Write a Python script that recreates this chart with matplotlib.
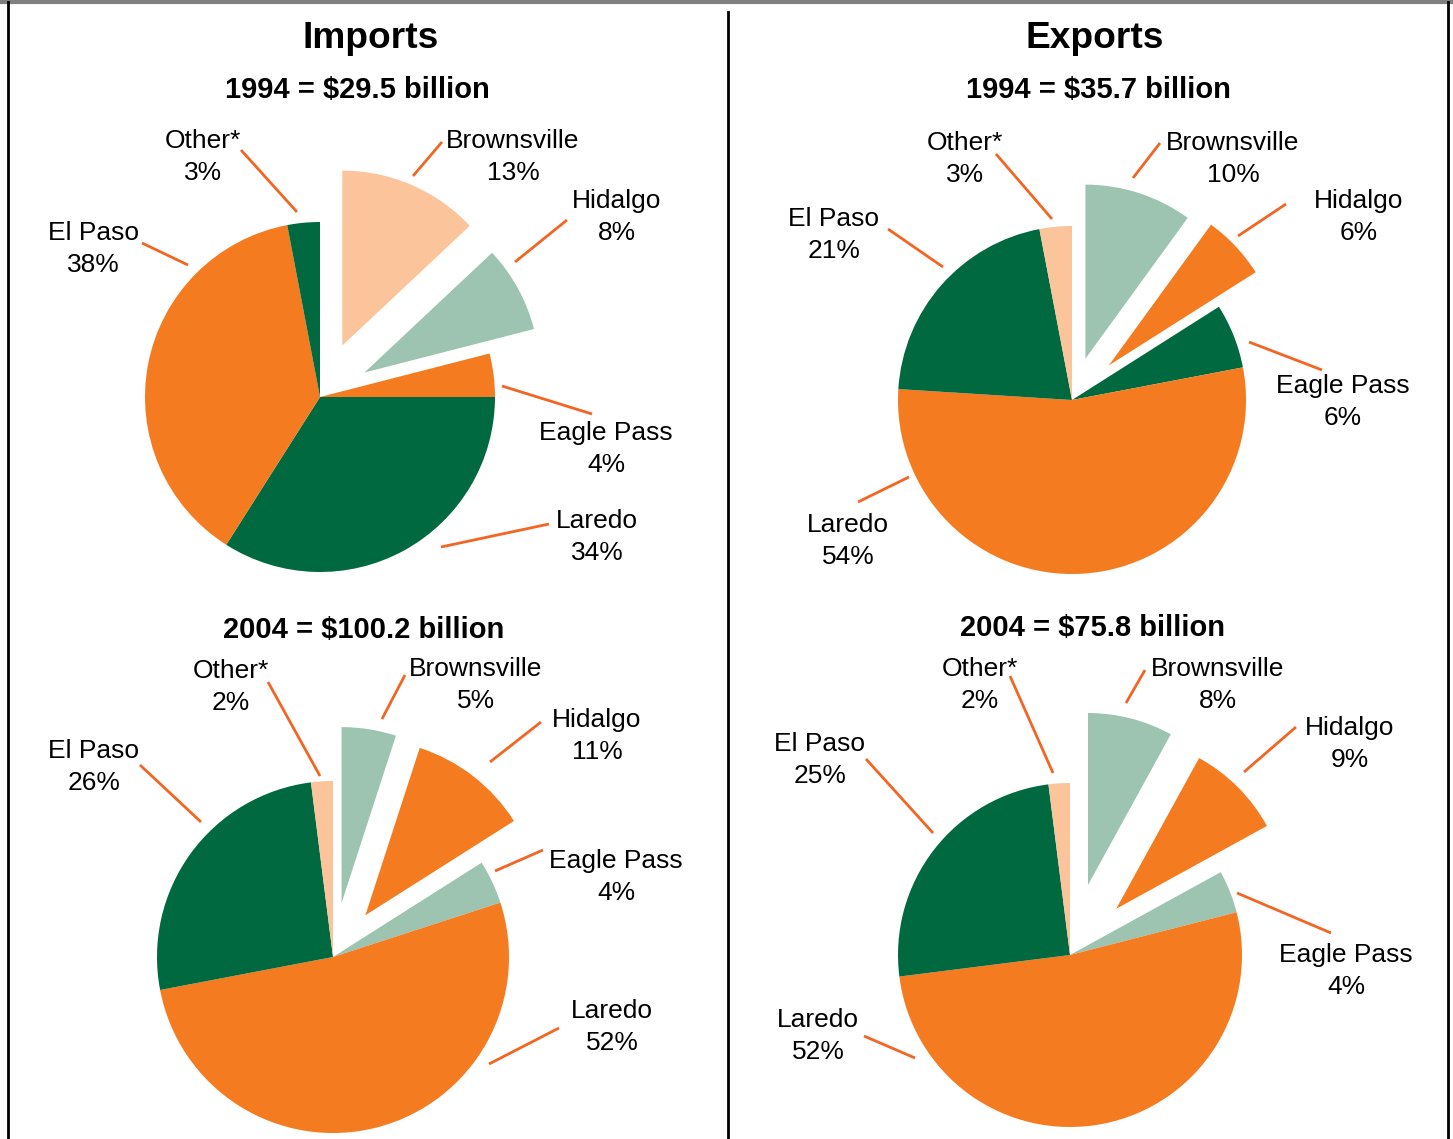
import matplotlib
matplotlib.use("Agg")
import matplotlib.pyplot as plt
from matplotlib.lines import Line2D

# ---------------- data ----------------
ports = ["Brownsville", "Hidalgo", "Eagle Pass", "Laredo", "El Paso", "Other*"]
imports_1994 = [13, 8, 4, 34, 38, 3]
imports_2004 = [5, 11, 4, 52, 26, 2]
exports_1994 = [10, 6, 6, 54, 21, 3]
exports_2004 = [8, 9, 4, 52, 25, 2]
panel_titles = ["Imports", "Exports"]
subtitles = ["1994 = $29.5 billion", "2004 = $100.2 billion",
             "1994 = $35.7 billion", "2004 = $75.8 billion"]

# ---------------- style ----------------
ORANGE = "#F47B20"
DKGREEN = "#006940"
LTGREEN = "#9DC3B1"
PEACH = "#FBC49A"
LEADER = "#F26522"

W, H = 1453, 1139
fig = plt.figure(figsize=(W / 100, H / 100), dpi=100)
ax = fig.add_axes([0, 0, 1, 1])
plt.rcParams["font.family"] = ["Liberation Sans", "DejaVu Sans"]

def Y(y):
    return H - y

# layout: (values, center px, radius px, colors, explode fractions, label layout)
# label layout per slice: (text x, text y center, leader x0, y0, x1, y1)
pies = [
    (imports_1994, (320, 397), 175,
     [PEACH, LTGREEN, ORANGE, DKGREEN, ORANGE, DKGREEN],
     [0.32, 0.29, 0, 0, 0, 0],
     [(513, 157, 413, 176, 442, 142),
      (617, 217, 515, 262, 567, 220),
      (606, 449, 502, 386, 592, 414),
      (597, 537, 441, 547, 549, 524),
      (93, 249, 188, 265, 142, 243),
      (203, 157, 297, 212, 241, 150)]),
    (imports_2004, (333, 957), 176,
     [LTGREEN, ORANGE, LTGREEN, ORANGE, DKGREEN, PEACH],
     [0.31, 0.3, 0, 0, 0, 0],
     [(476, 685, 382, 719, 405, 675),
      (597, 736, 490, 762, 541, 722),
      (616, 877, 495, 871, 543, 850),
      (612, 1027, 489, 1064, 559, 1028),
      (94, 767, 201, 822, 140, 765),
      (231, 687, 320, 776, 268, 682)]),
    (exports_1994, (1072, 400), 174,
     [LTGREEN, ORANGE, DKGREEN, ORANGE, DKGREEN, PEACH],
     [0.25, 0.29, 0, 0, 0, 0],
     [(1233, 159, 1133, 178, 1160, 143),
      (1359, 217, 1238, 236, 1286, 204),
      (1343, 402, 1249, 342, 1322, 370),
      (848, 541, 909, 477, 858, 502),
      (834, 235, 943, 267, 888, 229),
      (965, 159, 1052, 219, 996, 154)]),
    (exports_2004, (1070, 955), 172,
     [LTGREEN, ORANGE, LTGREEN, ORANGE, DKGREEN, PEACH],
     [0.42, 0.38, 0, 0, 0, 0],
     [(1218, 685, 1126, 703, 1145, 670),
      (1350, 744, 1244, 772, 1296, 727),
      (1346, 971, 1237, 893, 1331, 933),
      (818, 1036, 915, 1058, 864, 1036),
      (820, 760, 933, 833, 866, 759),
      (980, 685, 1053, 773, 1010, 676)]),
]

for values, (cx, cy), r, cols, expl, lay in pies:
    ax.pie(values, explode=[e * r for e in expl], colors=cols,
           startangle=90, counterclock=False, center=(cx, Y(cy)), radius=r,
           frame=True, wedgeprops=dict(linewidth=0))
    for name, v, (tx, ty, x0, y0, x1, y1) in zip(ports, values, lay):
        ax.plot([x0, x1], [Y(y0), Y(y1)], color=LEADER, lw=2,
                solid_capstyle="butt")
        ax.text(tx, Y(ty), f"{name}\n{v}%", ha="center", va="center",
                fontsize=19, linespacing=1.45, color="black")

# titles
ax.text(371, Y(39), panel_titles[0], ha="center", va="center",
        fontsize=26.7, fontweight="bold")
ax.text(1095, Y(39), panel_titles[1], ha="center", va="center",
        fontsize=26.7, fontweight="bold")
for (sx, sy), s in zip([(357, 90), (364, 630), (1098, 90), (1093, 628)],
                       subtitles):
    ax.text(sx, Y(sy), s, ha="center", va="center", fontsize=21,
            fontweight="bold")

# frame & divider
ax.add_line(Line2D([0, W], [Y(1.5), Y(1.5)], color="#808080", lw=3))
ax.add_line(Line2D([8, 8], [Y(2), Y(H + 5)], color="black", lw=2))
ax.add_line(Line2D([1448, 1448], [Y(2), Y(H + 5)], color="black", lw=2))
ax.add_line(Line2D([728, 728], [Y(12), Y(H + 5)], color="black", lw=2))

ax.set_xlim(0, W)
ax.set_ylim(0, H)
ax.set_aspect("auto")
ax.axis("off")

fig.savefig("out.png", dpi=100)
